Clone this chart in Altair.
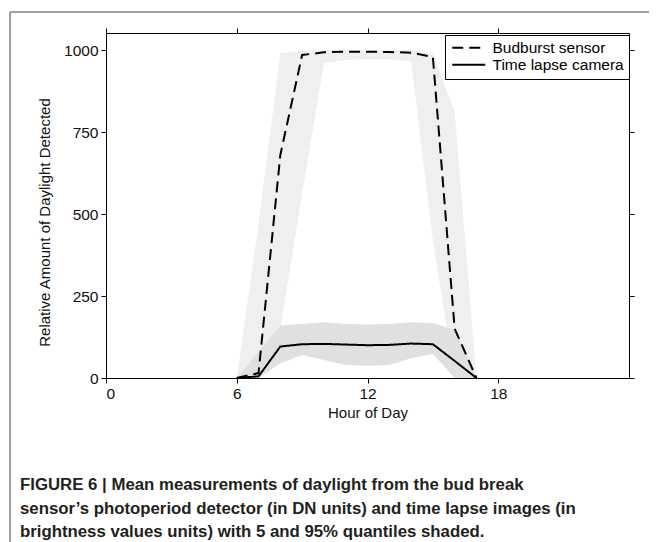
import altair as alt
import pandas as pd

# ---- data ----
hours = [6, 7, 8, 9, 10, 11, 12, 13, 14, 15, 16, 17]
budburst_mean = [0, 15, 680, 985, 993, 995, 995, 994, 992, 979, 150, 0]
budburst_q05 = [0, 0, 150, 560, 960, 970, 972, 972, 966, 420, 0, 0]
budburst_q95 = [0, 470, 990, 998, 1000, 1000, 1000, 1000, 1000, 988, 810, 0]
time_mean = [0, 5, 96, 103, 104, 102, 100, 101, 105, 103, 52, 0]
time_q05 = [0, 0, 45, 70, 55, 40, 37, 40, 60, 73, 0, 0]
time_q95 = [0, 80, 160, 165, 170, 165, 163, 165, 170, 168, 146, 0]

series_names = ["Budburst sensor", "Time lapse camera"]
x_ticks = [0, 6, 12, 18]
y_ticks = [0, 250, 500, 750, 1000]
x_title = "Hour of Day"
y_title = "Relative Amount of Daylight Detected"
caption_lines = [
    "FIGURE 6 | Mean measurements of daylight from the bud break",
    "sensor\u2019s photoperiod detector (in DN units) and time lapse images (in",
    "brightness values units) with 5 and 95% quantiles shaded.",
]

# ---- tables built from the arrays ----
bands = pd.DataFrame({
    "hour": hours,
    "bb_lo": budburst_q05, "bb_hi": budburst_q95,
    "tl_lo": time_q05, "tl_hi": time_q95,
})
lines = pd.DataFrame({
    "hour": hours * 2,
    "value": budburst_mean + time_mean,
    "series": [series_names[0]] * len(hours) + [series_names[1]] * len(hours),
})
one = pd.DataFrame({"k": [0]})

FONT = "Liberation Sans"
CAPFONT = "Liberation Sans"
W, H = 523, 345

xscale = alt.Scale(domain=[0, 24], nice=False, zero=False)
yscale = alt.Scale(domain=[0, 1052], nice=False, zero=False)

light = alt.Chart(bands).mark_area(color="#efefef", opacity=1).encode(
    x=alt.X("hour:Q", scale=xscale,
            axis=alt.Axis(values=x_ticks, title=x_title, orient="bottom",
                          labelPadding=3, titlePadding=4)),
    y=alt.Y("bb_lo:Q", scale=yscale,
            axis=alt.Axis(values=y_ticks, title=y_title, orient="left", format="d",
                          labelPadding=3, titlePadding=11, titleY=189)),
    y2="bb_hi:Q",
)

dark = alt.Chart(bands).mark_area(color="#e0e0e0", opacity=1).encode(
    x=alt.X("hour:Q", scale=xscale, axis=None),
    y=alt.Y("tl_lo:Q", scale=yscale, axis=None),
    y2="tl_hi:Q",
)

line_layer = alt.Chart(lines).mark_line(color="black", strokeWidth=2).encode(
    x=alt.X("hour:Q", scale=xscale,
            axis=alt.Axis(values=x_ticks, orient="top", labels=False, title=None)),
    y=alt.Y("value:Q", scale=yscale,
            axis=alt.Axis(values=y_ticks, orient="right", labels=False, title=None)),
    strokeDash=alt.StrokeDash(
        "series:N",
        scale=alt.Scale(domain=series_names, range=[[11, 6], [1, 0]]),
        legend=alt.Legend(
            title=None, orient="none", legendX=339, legendY=2,
            symbolType="M-3,0H3", symbolSize=121, symbolStrokeWidth=2,
            symbolStrokeColor="black", symbolOffset=11,
            labelFont=FONT, labelFontSize=15.5, labelColor="black", labelOffset=16,
            strokeColor="black", fillColor="white", padding=5, rowPadding=0,
        ),
    ),
)

frame_left = alt.Chart(one).mark_rule(color="#808080", strokeWidth=1.5).encode(
    x=alt.value(-96), y=alt.value(-21), y2=alt.value(H + 300))
frame_top = alt.Chart(one).mark_rule(color="#808080", strokeWidth=1.5).encode(
    x=alt.value(-96), x2=alt.value(W + 200), y=alt.value(-21))

caption = alt.Chart(one).mark_text(
    align="left", baseline="alphabetic", font=CAPFONT, fontSize=16.8,
    fontWeight="bold", color="#231f20", lineHeight=23.5,
).encode(x=alt.value(-86), y=alt.value(457), text=alt.value(caption_lines))

chart = alt.layer(light, dark, line_layer, frame_left, frame_top, caption).resolve_axis(
    x="independent", y="independent"
).properties(
    width=W, height=H,
    autosize=alt.AutoSizeParams(type="none"),
    padding={"left": 98, "top": 25, "right": 20, "bottom": 164},
    background="white",
).configure_view(stroke=None).configure_axis(
    grid=False, domainColor="black", domainWidth=1, tickColor="black",
    tickSize=5, tickWidth=1, labelFont=FONT, titleFont=FONT,
    labelFontSize=15.5, titleFontSize=15, titleFontWeight="normal",
    labelColor="#111111", titleColor="#111111",
)

chart.save("out.html", embed_options={"renderer": "svg", "actions": False})
